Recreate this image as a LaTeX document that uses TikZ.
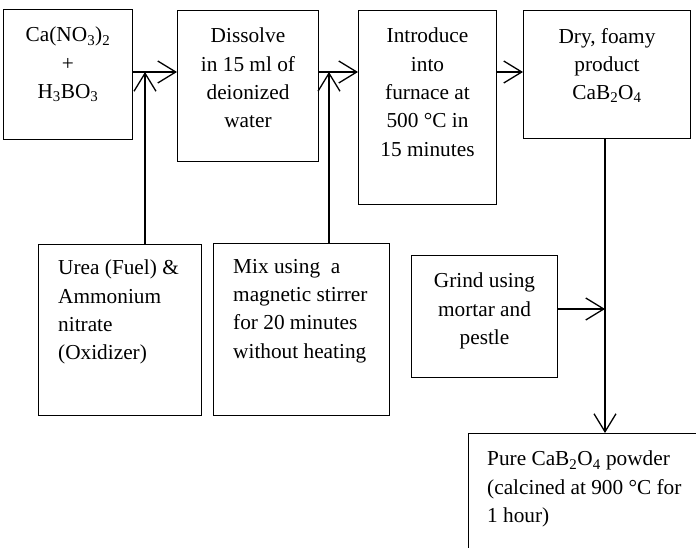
\documentclass[tikz,border=0pt]{standalone}
\usepackage{fontspec}
\setmainfont{Liberation Serif}
\usetikzlibrary{positioning,arrows.meta}

\begin{document}
\begin{tikzpicture}[
  x=1pt, y=-1pt,
  box/.style={
    draw,
    line width=1pt,
    anchor=north west,
    inner sep=0pt},
  txt/.style={
    align=center,
    inner sep=0pt,
    font=\fontsize{21.3}{28.3}\selectfont},
  txtl/.style={txt, align=left},
  flow/.style={
    line width=1.3pt,
    -{Straight Barb[length=18pt,width=22pt,line width=1.3pt]}}
  ]
    \clip (0,0) rectangle (696,548);
    % top row
    \node[box, minimum width=129, minimum height=130] (caN) at (3,9) {};
    \node[box, minimum width=141, minimum height=151] (diss) at (177,10) {};
    \node[box, minimum width=138, minimum height=194] (furn) at (358,10) {};
    \node[box, minimum width=167, minimum height=128] (dry) at (523,10) {};
    \node[txt, below=18pt of caN.north] (caNt) {Ca(NO\textsubscript{3})\textsubscript{2}\\+\\H\textsubscript{3}BO\textsubscript{3}};
    \node[txt, below=18pt of diss.north] (disst) {Dissolve\\in 15 ml of\\deionized\\water};
    \node[txt, below=18pt of furn.north] (furnt) {Introduce\\into\\furnace at\\500 °C in\\15 minutes};
    \node[txt, below=18pt of dry.north] (dryt) {Dry, foamy\\product\\CaB\textsubscript{2}O\textsubscript{4}};
    % lower row
    \node[box, minimum width=163, minimum height=171] (urea) at (38,244) {};
    \node[box, minimum width=176, minimum height=172] (mix) at (213,243) {};
    \node[box, minimum width=146, minimum height=122] (grind) at (411,255) {};
    \node[box, minimum width=260, minimum height=160] (pure) at (468,433) {};
    \node[txtl, below right=16pt and 20pt of urea.north west] (ureat) {Urea (Fuel) \&\\Ammonium\\nitrate\\(Oxidizer)};
    \node[txtl, below right=16pt and 20pt of mix.north west] (mixt) {Mix using\ \ a\\magnetic stirrer\\for 20 minutes\\without heating};
    \node[txt, below=18pt of grind.north] (grindt) {Grind using\\mortar and\\pestle};
    \node[txtl, below right=18pt and 19pt of pure.north west] (puret) {Pure CaB\textsubscript{2}O\textsubscript{4} powder\\(calcined at 900 °C for\\1 hour)};
    % joins
    \coordinate (j1) at (145,72);
    \coordinate (j2) at (329,72);
    \coordinate (j3) at (605,309);
    \draw[flow] (j1 -| caN.east) -- (j1 -| diss.west);
    \draw[flow] (urea.north -| j1) -- (j1);
    \draw[flow] (j2 -| diss.east) -- (j2 -| furn.west);
    \draw[flow] (mix.north -| j2) -- (j2);
    \draw[flow] (j2 -| furn.east) -- (j2 -| dry.west);
    \draw[flow] (dry.south -| j3) -- (j3 |- pure.north);
    \draw[flow] (j3 -| grind.east) -- (j3);
\end{tikzpicture}
\end{document}
